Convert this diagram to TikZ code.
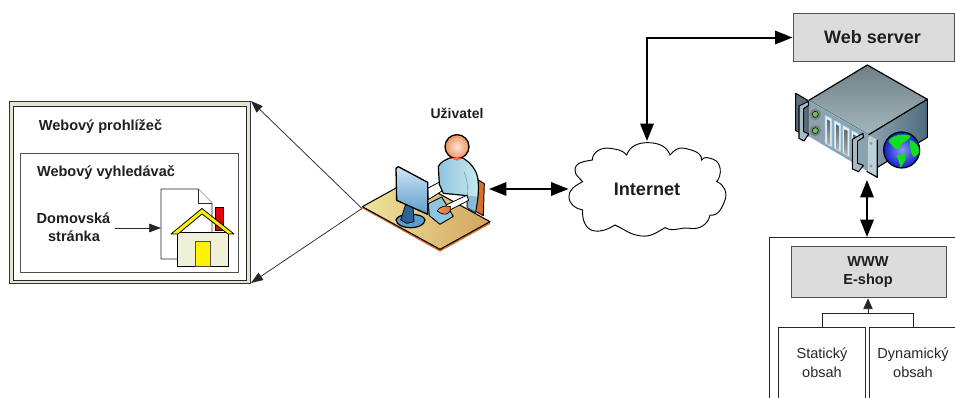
\documentclass[tikz,border=0pt]{standalone}
\usepackage{fontspec}
\setmainfont{Liberation Sans}
\usetikzlibrary{arrows.meta}
\definecolor{boxgray}{HTML}{DCDCDC}
\definecolor{edgegray}{HTML}{505050}
\definecolor{frameol}{HTML}{E2E5D2}
\definecolor{houseol}{HTML}{F0F0D8}
\definecolor{deskA}{HTML}{F0E49C}
\definecolor{deskB}{HTML}{D2A45E}
\definecolor{deskside}{HTML}{D8702C}
\definecolor{shirtA}{HTML}{8FC4E0}
\definecolor{shirtB}{HTML}{C8EAEE}
\definecolor{shirtC}{HTML}{6FAAD0}
\definecolor{skinA}{HTML}{FBE6D6}
\definecolor{skinB}{HTML}{E8965A}
\definecolor{monA}{HTML}{D0E6F4}
\definecolor{monB}{HTML}{5E9CCB}
\definecolor{monD}{HTML}{2A6496}
\definecolor{srvtopA}{HTML}{6E7F87}
\definecolor{srvtopB}{HTML}{A5B6BC}
\definecolor{srvsideA}{HTML}{8FA5AF}
\definecolor{srvsideB}{HTML}{4E6C7C}
\definecolor{srvfront}{HTML}{8CA2AE}
\definecolor{srvpanel}{HTML}{BBD0D8}
\definecolor{srvedge}{HTML}{8CC0D8}
\definecolor{handle}{HTML}{A8BAC4}
\definecolor{flange}{HTML}{5A7080}
\definecolor{globeA}{HTML}{8A98F0}
\definecolor{globeB}{HTML}{1020C8}
\definecolor{land}{HTML}{10E020}
\tikzset{
 lab/.style={font=\bfseries\fontsize{#1}{#1}\selectfont,align=center,inner sep=0pt,text=black!88},
 plain/.style={font=\fontsize{#1}{#1}\selectfont,align=center,inner sep=0pt,text=black!85},
 graybox/.style={draw=edgegray,fill=boxgray,line width=.8pt,inner sep=0pt},
 thinarrow/.style={draw=black!85,line width=.55pt,-{Stealth[length=9pt,width=6.5pt,inset=0pt]}},
 bothmed/.style={draw=black,line width=1.5pt,{Stealth[length=13pt,width=10pt,inset=0pt]}-{Stealth[length=13pt,width=10pt,inset=0pt]}},
 smallarrow/.style={draw=black!85,line width=.55pt,-{Stealth[length=8pt,width=7pt,inset=0pt]}},
 zoomuser/.style={shift={(360,125)},x=.25pt,y=-.25pt},
 zoomsrv/.style={shift={(790,60)},x=.25pt,y=-.25pt},
 zoomthree/.style={shift={(560,0)},x=.25pt,y=-.25pt},
}
\begin{document}
\begin{tikzpicture}[x=.75pt,y=-.75pt]
\useasboundingbox (0,0) rectangle (955,398);
\clip (0,0) rectangle (955,398);
% browser
\node[draw=black!80,fill=frameol,line width=.6pt,minimum width=181pt,minimum height=136.5pt,inner sep=0pt,anchor=north west] (frame) at (8.5,101.5) {};
\node[draw=black!85,fill=white,line width=.6pt,minimum width=175pt,minimum height=130pt,inner sep=0pt,anchor=north west] (inner) at (13,106.5) {};
\node[draw=edgegray,fill=white,line width=.6pt,minimum width=163.5pt,minimum height=89pt,inner sep=0pt,anchor=north west] (search) at (20,153) {};
\node[lab=10.9] (t1) at (100.5,127) {Webový prohlížeč};
\node[lab=10.9] (t2) at (106,173) {Webový vyhledávač};
\node[lab=10.9] (t3) at (73.5,218.5) {Domovská};
\node[lab=10.9] (t4) at (74,236.5) {stránka};
\draw[fill=white,draw=black!85,line width=.6pt] (161,189) -- (198,189) -- (212,203) -- (212,259) -- (161,259) -- cycle;
\draw[fill=white,draw=black!85,line width=.6pt] (198,189) -- (198,203) -- (212,203);
\coordinate (docleft) at (161,228);
\draw[thinarrow] (115,228) -- (docleft);
\fill[red!90!black,draw=black,line width=.4pt] (215,207) rectangle (223,230);
\draw[fill=houseol,draw=black,line width=.6pt] (177,232) rectangle (228,266);
\draw[fill=yellow,draw=black,line width=.6pt,line join=round] (171,234) -- (202,208.5) -- (234,234) -- (228,234) -- (202,214) -- (178,234) -- cycle;
\draw[fill=yellow,draw=black!70,line width=.6pt] (195,241) rectangle (210,266);
% connectors to browser
\coordinate (hub) at (362,208.5);
\coordinate (ftop) at (251,101);
\coordinate (fbot) at (251,283);
\draw[thinarrow] (hub) -- (ftop);
\draw[thinarrow] (hub) -- (fbot);
% user
\node[lab=10.5] (user) at (457,113) {Uživatel};
\begin{scope}[zoomuser,line join=round]
 \draw[fill=deskside,draw=black,line width=.7pt] (350,162) -- (373,176) -- (370,272) -- (345,258) -- cycle;
 \draw[fill=deskside,draw=none] (7,245) -- (7,250) -- (240,380) -- (390,297) -- (390,290) -- cycle;
 \path[left color=deskA,right color=deskB,draw=black,line width=.8pt] (7,245) -- (157,162) -- (390,290) -- (240,373) -- cycle;
 \draw[fill=white,draw=black,line width=.6pt] (203,190) -- (240,170) -- (246,198) -- (205,224) -- cycle;
 \path[left color=shirtA,right color=shirtB,draw=black,line width=.9pt] (235,125) .. controls (240,110) and (262,102) .. (272,98) -- (310,100) .. controls (335,115) and (352,140) .. (354,165) .. controls (358,200) and (352,235) .. (346,262) -- (322,248) -- (322,212) -- (250,205) -- (238,178) -- cycle;
 \fill[shirtC,opacity=.7] (322,248) -- (346,262) -- (352,215) -- (322,212) -- cycle;
 \draw[shirtC,line width=.5pt] (312,140) .. controls (320,160) and (325,185) .. (322,212);
 \draw[fill=shirtA,draw=black,line width=.7pt] (205,236) -- (245,216) -- (280,274) -- (240,298) -- (208,272) -- cycle;
 \draw[fill=white,draw=black,line width=.6pt] (258,240) -- (320,211) -- (326,226) -- (268,256) -- cycle;
 \path[left color=skinB,right color=deskside,draw=black,line width=.5pt] (232,258) .. controls (236,245) and (258,240) .. (272,245) .. controls (278,258) and (258,280) .. (232,258) -- cycle;
 \path[shade,inner color=skinA,outer color=skinB] (291,65) circle (36);
 \draw[black,line width=1pt] (291,65) circle (36);
 \fill[red!75!orange!70] (272,99) -- (310,100) -- (291,107) -- cycle;
 \draw[fill=monB,draw=black,line width=.9pt] (108,285) .. controls (112,262) and (192,262) .. (195,285) .. controls (192,316) and (112,316) .. (108,285) -- cycle;
 \draw[fill=monD,draw=black,line width=.6pt] (122,285) -- (142,222) -- (158,228) -- (162,290) -- (140,295) -- cycle;
 \path[top color=monA,bottom color=monB,draw=black,line width=1pt] (108,130) -- (115,125) -- (203,172) -- (203,268) -- (110,226) -- cycle;
\end{scope}
% double arrow user-cloud
\coordinate (userr) at (489,189);
\coordinate (cloudl) at (568.5,189);
\draw[bothmed] (userr) -- (cloudl);
% cloud
\begin{scope}[zoomthree]
 \draw[fill=white,draw=black,line width=.7pt]
  (200,465) to[out=70,in=180] (262,428) to[out=0,in=110] (330,465)
  to[out=50,in=165] (375,445) to[out=-15,in=90] (425,480)
  to[out=60,in=160] (460,478) to[out=-20,in=50] (470,545)
  to[out=-20,in=70] (495,600) to[out=-110,in=-10] (450,645)
  to[out=-100,in=-10] (390,685) to[out=170,in=-30] (315,683)
  to[out=-150,in=-5] (245,708) to[out=175,in=-25] (165,675)
  to[out=-150,in=-5] (105,693) to[out=175,in=-95] (68,630)
  to[out=170,in=-90] (27,590) to[out=90,in=210] (68,545)
  to[out=130,in=-90] (45,510) to[out=90,in=190] (97,480)
  to[out=90,in=170] (150,445) to[out=-10,in=130] cycle;
\end{scope}
\node[lab=13.6] (inet) at (647,189) {Internet};
\coordinate (cloudtop) at (647,141);
% web server
\node[graybox,minimum width=120.75pt,minimum height=36pt,anchor=north west] (ws) at (792.5,13) {};
\node[lab=13.5] (wst) at (872.5,37) {Web server};
\draw[bothmed] (cloudtop) |- (ws.west);
% server
\begin{scope}[zoomsrv,line join=round]
 \path[top color=srvtopA,bottom color=srvtopB,draw=black,line width=.9pt] (55,122) -- (232,15) -- (412,118) -- (235,225) -- cycle;
 \path[left color=srvsideA,right color=srvsideB,draw=black,line width=.8pt] (235,225) -- (412,118) -- (412,232) -- (262,322) -- cycle;
 \draw[fill=flange,draw=black,line width=.8pt] (17,100) -- (55,122) -- (55,228) -- (17,212) -- cycle;
 \fill[srvfront] (55,122) -- (235,225) -- (235,335) -- (55,228) -- cycle;
 \draw[srvedge,line width=.6pt] (55,122) -- (235,225);
 \draw[fill=srvpanel,draw=none] (235,225) -- (262,240) -- (262,352) -- (235,336) -- cycle;
 \draw[black,line width=.9pt] (262,240) -- (262,352) -- (230,334);
 \foreach \cx/\cy in {76/163,76/212}{
  \fill[black!50] (\cx,\cy) circle (17);
  \draw[fill=green!60!black!60!white,draw=black,line width=.4pt] (\cx,\cy) circle (9);}
 \foreach \sx/\dy in {105/0,132/15,158/30,184/45}{
  \draw[fill=white!85!cyan,draw=srvedge,line width=.4pt] (\sx,165+\dy) -- (\sx+21,176+\dy) -- (\sx+21,262+\dy) -- (\sx,250+\dy) -- cycle;
  \path[top color=black!60,bottom color=black!30] (\sx+6,178+\dy) -- (\sx+15,183+\dy) -- (\sx+15,256+\dy) -- (\sx+6,250+\dy) -- cycle;}
 \fill[black!40] (243,250) circle (5);
 \fill[black!40] (243,318) circle (5);
 \draw[fill=handle,draw=black,line width=.8pt] (27,138) -- (55,124) -- (56,136) -- (41,146) -- (41,215) -- (56,222) -- (42,243) -- (27,235) -- cycle;
 \draw[fill=handle,draw=black,line width=.8pt] (187,238) -- (219,220) -- (220,232) -- (203,243) -- (203,310) -- (220,316) -- (206,335) -- (187,327) -- cycle;
 \path[shade,inner color=globeA,outer color=globeB] (335,270) circle (54);
 \begin{scope}
  \clip (335,270) circle (54);
  \fill[land] (295,243) .. controls (305,225) and (345,218) .. (362,228) .. controls (358,240) and (340,245) .. (335,252) .. controls (330,265) and (322,272) .. (312,262) .. controls (305,255) and (300,250) .. (295,243) -- cycle;
  \fill[land] (360,240) .. controls (375,245) and (388,258) .. (390,278) -- (372,292) .. controls (362,280) and (358,262) .. (360,240) -- cycle;
  \fill[land] (320,286) -- (346,280) -- (346,300) -- (332,324) -- (326,302) -- cycle;
 \end{scope}
 \draw[black,line width=.9pt] (335,270) circle (54);
\end{scope}
% outer www container
\node[draw=black!85,fill=white,line width=.6pt,minimum width=180pt,minimum height=150pt,inner sep=0pt,anchor=north west] (outer) at (768.5,237) {};
\coordinate (srvbot) at (867,180);
\draw[bothmed] (srvbot) -- (srvbot |- outer.north);
\node[graybox,minimum width=116pt,minimum height=38.5pt,anchor=north west] (www) at (791,246) {};
\node[lab=10.9] (wwwt) at (868,262) {WWW};
\node[lab=10.9] (shop) at (868,281) {E-shop};
\node[draw=black!85,fill=white,line width=.6pt,minimum width=65.5pt,minimum height=90pt,inner sep=0pt,anchor=north west] (stat) at (778,327) {};
\node[draw=black!85,fill=white,line width=.6pt,minimum width=90pt,minimum height=90pt,inner sep=0pt,anchor=north west] (dyn) at (869,327) {};
\node[plain=10.9] (s1) at (822,354.5) {Statický};
\node[plain=10.9] (s2) at (822,372.5) {obsah};
\node[plain=10.9] (d1) at (913,354.5) {Dynamický};
\node[plain=10.9] (d2) at (913,372.5) {obsah};
\coordinate (st) at (822,327);
\coordinate (dt) at (913,327);
\coordinate (jn) at (868,313);
\draw[black!85,line width=.55pt] (st) -- (822,313) -- (913,313) -- (dt);
\draw[smallarrow] (jn) -- (jn |- www.south);
\end{tikzpicture}
\end{document}
